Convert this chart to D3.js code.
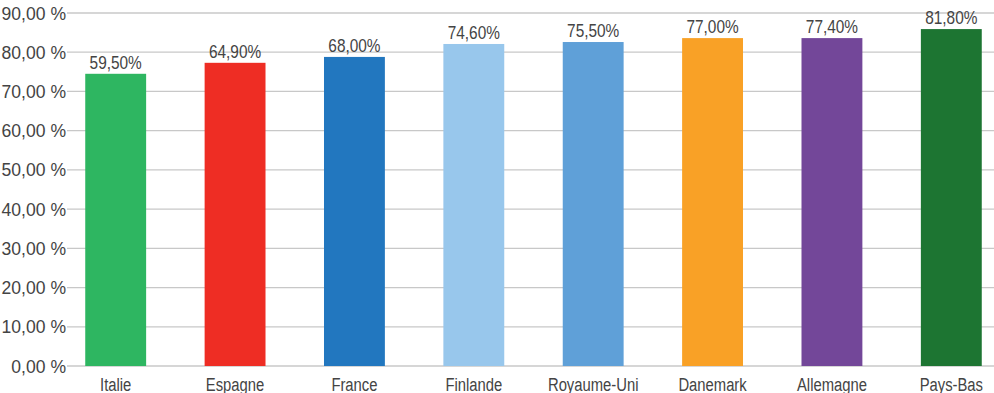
<!DOCTYPE html>
<html><head><meta charset="utf-8">
<script src="https://cdn.jsdelivr.net/npm/d3@7"></script>
<style>
body{margin:0;background:#fff;}
text{font-family:"Liberation Sans Narrow","Liberation Sans",Arial,sans-serif;fill:#444;}
</style></head>
<body><svg id="c" width="994" height="393"></svg>
<script>
const categories = ["Italie","Espagne","France","Finlande","Royaume-Uni","Danemark","Allemagne","Pays-Bas"];
// bar heights as drawn against the axis
const barValues = [74.5, 77.3, 78.8, 82.1, 82.6, 83.6, 83.6, 85.9];
// value labels as printed above the bars
const labelValues = ["59,50%","64,90%","68,00%","74,60%","75,50%","77,00%","77,40%","81,80%"];
const colors = ["#2eb661","#ee2d24","#2277bf","#98c7ec","#5fa0d8","#f9a126","#734799","#1d7532"];
const yTicks = [0,10,20,30,40,50,60,70,80,90];

const svg = d3.select("#c");
const y = d3.scaleLinear().domain([0,90]).range([366,13]);
const x = d3.scaleBand().domain(categories).range([56,1011]).paddingInner(0.49).paddingOuter(0.245);

svg.append("g").selectAll("line").data(yTicks).join("line")
  .attr("x1",67).attr("x2",994)
  .attr("y1",d=>y(d)).attr("y2",d=>y(d))
  .attr("stroke","#c8c8c8").attr("stroke-width",1.3);

svg.append("g").selectAll("text").data(yTicks).join("text")
  .attr("transform",d=>`translate(66,${y(d)+6.5}) scale(0.95,1)`)
  .attr("text-anchor","end").attr("font-size",18.5)
  .text(d=>d3.format(".2f")(d).replace(".",",")+" %");

svg.append("g").selectAll("rect").data(categories).join("rect")
  .attr("x",d=>x(d)).attr("width",x.bandwidth())
  .attr("y",(d,i)=>y(barValues[i]))
  .attr("height",(d,i)=>y(0)-y(barValues[i]))
  .attr("fill",(d,i)=>colors[i]);

svg.append("g").selectAll("text").data(categories).join("text")
  .attr("transform",(d,i)=>`translate(${x(d)+x.bandwidth()/2},${y(barValues[i])-5}) scale(0.88,1)`)
  .attr("text-anchor","middle").attr("font-size",17.5)
  .text((d,i)=>labelValues[i]);

svg.append("g").selectAll("text").data(categories).join("text")
  .attr("transform",d=>`translate(${x(d)+x.bandwidth()/2},391) scale(0.78,1)`)
  .attr("text-anchor","middle").attr("font-size",19)
  .text(d=>d);
</script></body></html>
